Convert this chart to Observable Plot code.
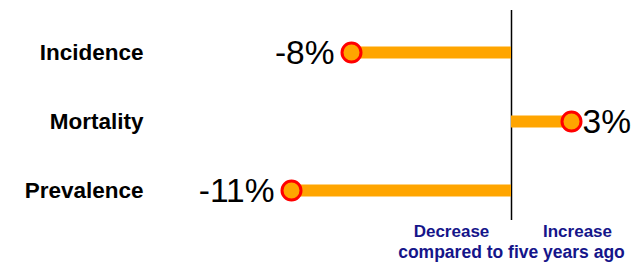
<!DOCTYPE html>
<html><head><meta charset="utf-8">
<script src="https://cdn.jsdelivr.net/npm/d3@7"></script>
<script src="https://cdn.jsdelivr.net/npm/@observablehq/plot@0.6"></script>
<style>body{margin:0;background:#fff;}</style>
</head><body><div id="chart"></div>
<script>
const categories = ["Incidence", "Mortality", "Prevalence"];
const changes = [-8, 3, -11];
const valueLabels = ["-8%", "3%", "-11%"];
const sideLabels = ["Decrease", "Increase"];
const footLabel = "compared to five years ago";

const data = categories.map((c, i) => ({cat: c, value: changes[i], label: valueLabels[i]}));
const font = "Liberation Sans, Arial, sans-serif";
const navy = "#15158a";

const chart = Plot.plot({
  width: 635, height: 265,
  margin: 0,
  style: {fontFamily: font, background: "#fff"},
  x: {domain: [-11, 3], range: [291, 571], axis: null},
  y: {type: "point", domain: categories, range: [51, 190], padding: 0, axis: null},
  marks: [
    Plot.ruleX([0], {stroke: "#000", strokeWidth: 1.5, insetTop: 10, insetBottom: 45}),
    Plot.ruleY(data, {x1: 0, x2: "value", y: "cat", stroke: "#FFA500", strokeWidth: 12}),
    Plot.dot(data, {x: "value", y: "cat", r: 9.5, fill: "#FFA500", stroke: "#FF0000", strokeWidth: 3}),
    Plot.text(data.filter(d => d.value < 0), {x: "value", y: "cat", text: "label", textAnchor: "end", dx: -17, dy: 1, fontSize: 33.5, fill: "#000"}),
    Plot.text(data.filter(d => d.value >= 0), {x: "value", y: "cat", text: "label", textAnchor: "start", dx: 11, dy: 1, fontSize: 33.5, fill: "#000"}),
    Plot.text(categories, {y: d => d, frameAnchor: "left", dx: 143, textAnchor: "end", fontSize: 22.5, fontWeight: "bold", fill: "#000"}),
    Plot.text([sideLabels[0]], {x: 0, text: d => d, frameAnchor: "bottom", dx: -60, dy: -29, fontSize: 17, fontWeight: "bold", fill: navy}),
    Plot.text([sideLabels[1]], {x: 0, text: d => d, frameAnchor: "bottom", dx: 66, dy: -29, fontSize: 17, fontWeight: "bold", fill: navy}),
    Plot.text([footLabel], {x: 0, text: d => d, frameAnchor: "bottom", dy: -8, fontSize: 17.5, fontWeight: "bold", fill: navy})
  ]
});
document.getElementById("chart").appendChild(chart);
</script>
</body></html>
